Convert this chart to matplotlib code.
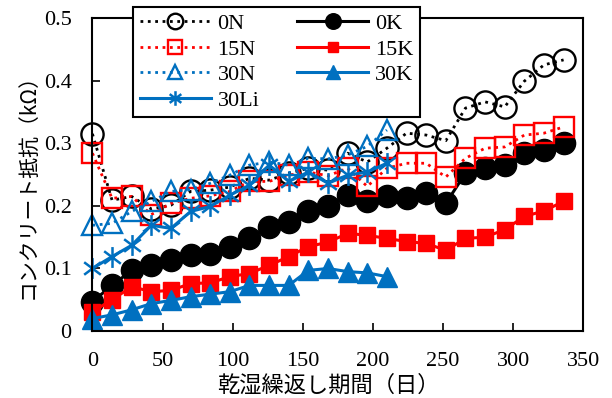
import matplotlib
matplotlib.use("Agg")
import matplotlib.pyplot as plt
from matplotlib.path import Path

# 乾湿繰返し期間（日）
days = [0, 14, 28, 42, 56, 70, 84, 98, 112, 126, 140, 154, 168, 182, 196, 210,
        224, 238, 252, 266, 280, 294, 308, 322, 336]
days30 = days[:16]

r_0N = [0.315, 0.209, 0.215, 0.195, 0.201, 0.223, 0.225, 0.230, 0.244, 0.241, 0.252, 0.260, 0.257,
        0.284, 0.270, 0.292, 0.316, 0.313, 0.304, 0.356, 0.366, 0.358, 0.399, 0.425, 0.433]
r_0K = [0.047, 0.073, 0.097, 0.105, 0.113, 0.121, 0.123, 0.135, 0.148, 0.167, 0.175, 0.191, 0.199,
        0.217, 0.207, 0.215, 0.212, 0.220, 0.204, 0.252, 0.260, 0.265, 0.284, 0.289, 0.300]
r_15N = [0.284, 0.212, 0.215, 0.186, 0.204, 0.212, 0.216, 0.223, 0.239, 0.239, 0.249, 0.254, 0.248,
         0.260, 0.231, 0.260, 0.268, 0.268, 0.246, 0.276, 0.292, 0.294, 0.313, 0.316, 0.326]
r_15K = [0.031, 0.050, 0.071, 0.063, 0.065, 0.076, 0.077, 0.087, 0.092, 0.105, 0.119, 0.135, 0.142,
         0.156, 0.153, 0.148, 0.143, 0.140, 0.129, 0.148, 0.150, 0.162, 0.183, 0.192, 0.207]
r_30N = [0.169, 0.172, 0.191, 0.207, 0.223, 0.226, 0.236, 0.249, 0.265, 0.270, 0.265, 0.276, 0.275,
         0.281, 0.295, 0.321]
r_30K = [0.020, 0.026, 0.034, 0.044, 0.049, 0.055, 0.059, 0.063, 0.073, 0.073, 0.073, 0.097, 0.100,
         0.095, 0.093, 0.087]
r_30Li = [0.100, 0.119, 0.137, 0.169, 0.164, 0.191, 0.199, 0.217, 0.233, 0.265, 0.239, 0.254, 0.236,
          0.249, 0.254, 0.268]

xticks = [0, 50, 100, 150, 200, 250, 300, 350]
yticks = [0, 0.1, 0.2, 0.3, 0.4, 0.5]
ytick_labels = ["0", "0.1", "0.2", "0.3", "0.4", "0.5"]

black = "black"
red = "#FF0000"
blue = "#0070C0"

# Excelの「*」マーカー（縦線＋X）
star = Path([(0, -1), (0, 1), (-0.8, -0.6), (0.8, 0.6), (-0.8, 0.6), (0.8, -0.6)],
            [Path.MOVETO, Path.LINETO, Path.MOVETO, Path.LINETO, Path.MOVETO, Path.LINETO])

plt.rcParams["font.family"] = ["Liberation Serif", "DejaVu Serif"]
jp = ["Noto Sans CJK JP", "DejaVu Sans"]

fig = plt.figure(figsize=(6.12, 3.98), dpi=100)
ax = fig.add_axes([0.151, 0.168, 0.802, 0.787])

h_0N, = ax.plot(days, r_0N, ls=":", lw=2, color=black, marker="o", ms=16,
                mfc="none", mec=black, mew=1.7, label="0N", clip_on=False)
h_0K, = ax.plot(days, r_0K, ls="-", lw=2.2, color=black, marker="o", ms=16,
                mfc=black, mec=black, label="0K", clip_on=False)
h_15N, = ax.plot(days, r_15N, ls=":", lw=2, color=red, marker="s", ms=14,
                 mfc="none", mec=red, mew=1.7, label="15N", clip_on=False)
h_15K, = ax.plot(days, r_15K, ls="-", lw=2.2, color=red, marker="s", ms=11,
                 mfc=red, mec=red, label="15K", clip_on=False)
h_30N, = ax.plot(days30, r_30N, ls=":", lw=2, color=blue, marker="^", ms=15,
                 mfc="none", mec=blue, mew=1.7, label="30N", clip_on=False)
h_30K, = ax.plot(days30, r_30K, ls="-", lw=2.2, color=blue, marker="^", ms=14,
                 mfc=blue, mec=blue, label="30K", clip_on=False)
h_30Li, = ax.plot(days30, r_30Li, ls="-", lw=2.2, color=blue, marker=star, ms=15,
                  mfc="none", mec=blue, mew=1.8, label="30Li", clip_on=False)

ax.set_xlim(0, 350)
ax.set_ylim(0, 0.5)
ax.set_xticks(xticks)
ax.set_yticks(yticks)
ax.set_yticklabels(ytick_labels)
ax.tick_params(direction="in", length=6, width=1.2, labelsize=16, pad=15)
ax.tick_params(axis="x", pad=15)
for s in ax.spines.values():
    s.set_linewidth(1.5)

ax.set_xlabel("乾湿繰返し期間（日）", family=jp, fontsize=16, labelpad=-4)
ax.set_ylabel("コンクリート抵抗（kΩ）", family=jp, fontsize=15, labelpad=2)
ax.xaxis.set_label_coords(0.48, -0.135)
ax.yaxis.set_label_coords(-0.11, 0.48)

handles = [h_0N, h_15N, h_30N, h_30Li, h_0K, h_15K, h_30K]
leg = fig.legend(handles=handles, ncol=2, loc="upper left",
                 bbox_to_anchor=(133 / 612, 1 - 7 / 398), borderaxespad=0,
                 fontsize=16, numpoints=1, markerscale=0.7,
                 handlelength=3.2, handletextpad=0.3,
                 columnspacing=1.7, labelspacing=0.22, borderpad=0.3,
                 fancybox=False, framealpha=1, edgecolor="black")
leg.get_frame().set_linewidth(1.5)
leg.set_zorder(5)

fig.savefig("out.png", dpi=100)
